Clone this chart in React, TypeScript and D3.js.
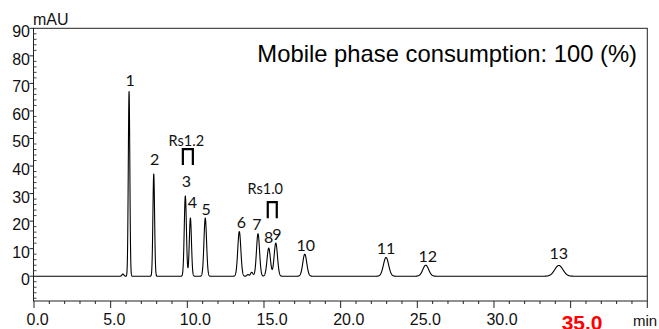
import * as d3 from 'd3'
import React from 'react'

// peaks: retention time (min), height (mAU), gaussian sigma (min)
const peakLabels = ['1', '2', '3', '4', '5', '6', '7', '8', '9', '10', '11', '12', '13']
const peakTimes = [6.2, 7.81, 9.87, 10.2, 11.17, 13.39, 14.61, 15.31, 15.77, 17.66, 22.96, 25.55, 34.23]
const peakHeights = [67, 37.1, 29.1, 21.1, 21.1, 16.2, 15.4, 10.2, 12.0, 8.0, 6.8, 4.0, 3.9]
const peakSigmas = [0.05, 0.055, 0.07, 0.07, 0.085, 0.1, 0.1, 0.11, 0.11, 0.13, 0.17, 0.19, 0.27]

// small unlabelled bumps
const minorTimes = [5.8, 13.95, 14.2]
const minorHeights = [0.8, 0.6, 1.4]
const minorSigmas = [0.06, 0.06, 0.08]

// resolution marks between peak pairs (indices into the peak arrays)
const rsTexts = ['Rs1.2', 'Rs1.0']
const rsPairs = [[2, 3], [7, 8]]

const xTicks = [0, 5, 10, 15, 20, 25, 30, 35]
const yTicks = [0, 10, 20, 30, 40, 50, 60, 70, 80, 90]
const title = 'Mobile phase consumption: 100 (%)'

const W = 659
const H = 329

// label nudges in px (baseline relative to apex)
const labelNudge: Record<string, [number, number]> = {
    '1': [1, -6], '2': [1, -9], '3': [1, -9], '4': [2, -10], '5': [1, -3],
    '6': [2, -3.5], '7': [-1, -4], '8': [0, -5], '9': [1, -3], '10': [1, -3.6],
    '11': [0, -3.6], '12': [2, -3], '13': [0, -6.5],
}
const rsLayout = [
    { lift: 31, textDx: -1.5, gap: 3, w: 10 },
    { lift: 25, textDx: -7, gap: 8, w: 9 },
]

const App = () => {
    const x = d3.scaleLinear().domain([0, 40]).range([34, 647.3])
    const y = d3.scaleLinear().domain([-9, 90]).range([301, 28.3])

    const signal = (t: number) => {
        let v = 0
        peakTimes.forEach((c, i) => {
            const s = peakSigmas[i]
            v += peakHeights[i] * Math.exp(-((t - c) ** 2) / (2 * s * s))
        })
        minorTimes.forEach((c, i) => {
            const s = minorSigmas[i]
            v += minorHeights[i] * Math.exp(-((t - c) ** 2) / (2 * s * s))
        })
        return v
    }
    const times = d3.range(0, 40.0001, 0.005)
    const line = d3.line<number>().x(t => x(t)).y(t => y(signal(t)))

    const left = x(0) - 0.5
    const right = x(40)
    const top = y(90)
    const bottom = y(-9)
    const minorX = d3.range(0, 41, 1)
    const minorY = d3.range(-8, 90, 2).filter(v => v % 10 !== 0)

    return (
        <svg width={W} height={H} style={{ position: 'fixed', left: 0, top: 0, background: '#fff' }}
            fontFamily="'Liberation Sans', Arial, sans-serif">
            <rect x={left} y={top} width={right - left} height={bottom - top} fill="none" stroke="#222" strokeWidth={1} />

            {/* y axis */}
            {yTicks.map(v => (
                <g key={'y' + v}>
                    <line x1={left - 4} x2={left} y1={y(v)} y2={y(v)} stroke="#222" />
                    <text x={30} y={y(v) + 9} textAnchor="end" fontSize={16} fill="#111">{v}</text>
                </g>
            ))}
            {minorY.map(v => (
                <line key={'ym' + v} x1={left} x2={left + 3} y1={y(v)} y2={y(v)} stroke="#444" />
            ))}
            <text x={33} y={25} fontSize={16} fill="#111">mAU</text>

            {/* x axis */}
            {minorX.map(v => (
                <line key={'xm' + v} x1={x(v)} x2={x(v)} y1={bottom} y2={bottom + (v % 5 === 0 ? 7 : 3)} stroke="#222" />
            ))}
            {xTicks.map(v => v === 35 ? (
                <text key={'xl' + v} x={x(v) - 9} y={330} fontSize={21} fontWeight="bold" fill="#ff0000">{v.toFixed(1)}</text>
            ) : (
                <text key={'xl' + v} x={x(v) - 7.5} y={325} fontSize={16} fill="#111">{v.toFixed(1)}</text>
            ))}
            <text x={633} y={326} fontSize={15} fill="#111">min</text>

            <text x={637} y={62} textAnchor="end" fontSize={23.8} fill="#000">{title}</text>

            {/* trace */}
            <path d={line(times) || ''} fill="none" stroke="#000" strokeWidth={1.1} strokeLinejoin="round" />

            {/* peak numbers */}
            {peakLabels.map((l, i) => {
                const [dx, dy] = labelNudge[l] || [0, -4]
                return (
                    <text key={'p' + l} x={x(peakTimes[i]) + dx} y={y(peakHeights[i]) + dy}
                        textAnchor="middle" fontFamily="Lato, 'Open Sans', sans-serif" fontSize={16} fill="#111">{l}</text>
                )
            })}

            {/* resolution brackets */}
            {rsPairs.map(([a, b], i) => {
                const L = rsLayout[i]
                const cx = x((peakTimes[a] + peakTimes[b]) / 2)
                const yb = y(Math.max(peakHeights[a], peakHeights[b])) - L.lift
                const yt = yb - 16
                return (
                    <g key={'rs' + i}>
                        <path d={`M${cx - L.w / 2},${yb} V${yt} H${cx + L.w / 2} V${yb}`} fill="none" stroke="#000" strokeWidth={2.2} />
                        <text x={cx + L.textDx} y={yt - L.gap} textAnchor="middle"
                            fontFamily="Lato, 'Open Sans', sans-serif" fontSize={14.5} fill="#111">{rsTexts[i]}</text>
                    </g>
                )
            })}
        </svg>
    )
}

export default App
